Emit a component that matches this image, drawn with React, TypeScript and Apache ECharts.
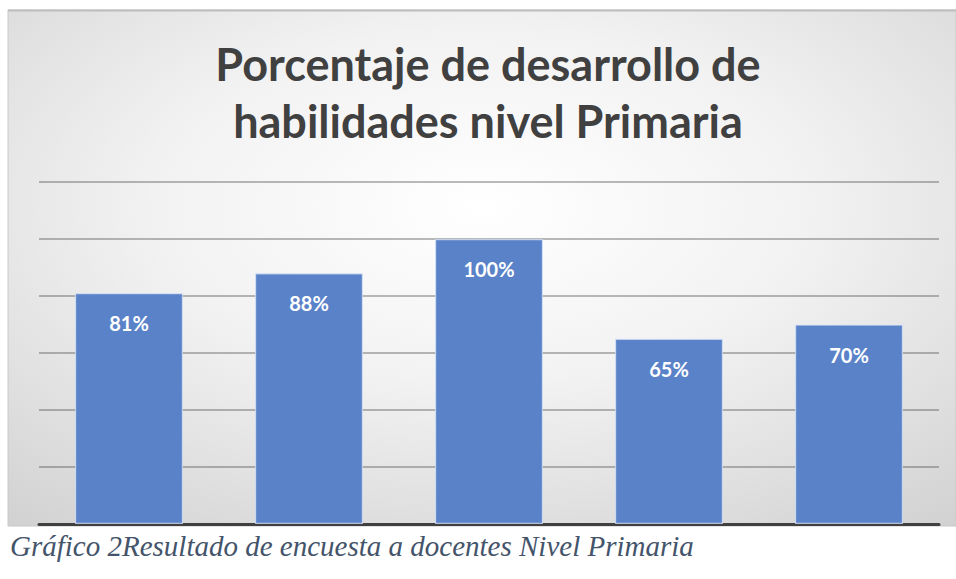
import React, { useEffect, useRef } from "react";
import * as echarts from "echarts";

const titleLines = ["Porcentaje de desarrollo de", "habilidades nivel Primaria"];
const caption = "Gráfico 2Resultado de encuesta a docentes Nivel Primaria";
const categories = ["Habilidad 1", "Habilidad 2", "Habilidad 3", "Habilidad 4", "Habilidad 5"];
const values = [81, 88, 100, 65, 70];
const yMax = 120;
const yInterval = 20;

export default function App() {
  const ref = useRef<HTMLDivElement>(null);
  useEffect(() => {
    if (!ref.current) return;
    const chart = echarts.init(ref.current, null, { renderer: "svg" });
    chart.setOption({
      animation: false,
      graphic: [
        {
          type: "rect",
          z: -10,
          silent: true,
          shape: { x: 8, y: 10, width: 948, height: 516 },
          style: {
            fill: new echarts.graphic.RadialGradient(0.5, 0.38, 0.98, [
              { offset: 0, color: "#ffffff" },
              { offset: 0.35, color: "#f2f2f2" },
              { offset: 1, color: "#c4c4c4" },
            ]),
            stroke: "#c8c8c8",
            lineWidth: 1,
          },
        },
        {
          type: "line",
          silent: true,
          shape: { x1: 8, y1: 10.5, x2: 956, y2: 10.5 },
          style: { stroke: "#bdbdbd", lineWidth: 2 },
        },
        {
          type: "text",
          x: 488,
          y: 64,
          style: {
            text: titleLines[0],
            fill: "#404040",
            font: "bold 45px Lato",
            align: "center",
            verticalAlign: "middle",
          },
        },
        {
          type: "text",
          x: 488,
          y: 121,
          style: {
            text: titleLines[1],
            fill: "#404040",
            font: "bold 45px Lato",
            align: "center",
            verticalAlign: "middle",
          },
        },
        {
          type: "text",
          x: 10,
          y: 546,
          style: {
            text: caption,
            fill: "#44546a",
            font: "italic 29px 'Liberation Serif'",
            align: "left",
            verticalAlign: "middle",
          },
        },
      ],
      grid: { left: 39, right: 17, top: 182, bottom: 55, containLabel: false },
      xAxis: {
        type: "category",
        data: categories,
        axisLine: { show: true, lineStyle: { color: "#404040", width: 3 } },
        axisTick: { show: false },
        axisLabel: { show: false },
      },
      yAxis: {
        type: "value",
        min: 0,
        max: yMax,
        interval: yInterval,
        axisLabel: { show: false },
        axisLine: { show: false },
        axisTick: { show: false },
        splitLine: {
          show: true,
          lineStyle: {
            color: "rgba(90,90,90,0.55)",
            width: 1.5,
          },
        },
      },
      series: [
        {
          type: "bar",
          data: values,
          barCategoryGap: "40%",
          itemStyle: {
            color: "#5a82c8",
            borderColor: "rgba(220,230,250,0.7)",
            borderWidth: 1.2,
          },
          label: {
            show: true,
            position: "insideTop",
            distance: 20,
            formatter: "{c}%",
            color: "#ffffff",
            fontFamily: "Lato",
            fontWeight: "bold",
            fontSize: 20,
          },
        },
      ],
    });
    return () => chart.dispose();
  }, []);
  return (
    <div
      ref={ref}
      style={{ position: "fixed", left: 0, top: 0, width: 956, height: 579, background: "#ffffff" }}
    />
  );
}
